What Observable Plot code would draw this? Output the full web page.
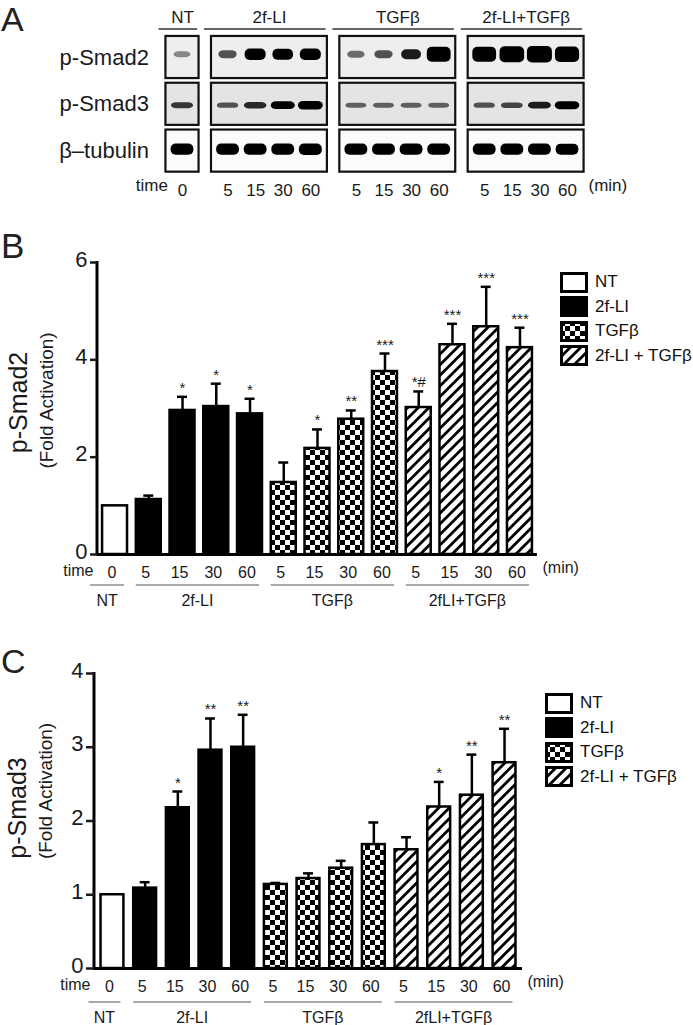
<!DOCTYPE html>
<html><head><meta charset="utf-8">
<script src="https://cdn.jsdelivr.net/npm/d3@7"></script>
<script src="https://cdn.jsdelivr.net/npm/@observablehq/plot@0.6"></script>
<style>
body{margin:0;background:#fff;}
#fig{position:relative;width:693px;height:1025px;overflow:hidden;font-family:"Liberation Sans",Arial,Helvetica,sans-serif;color:#1a1a1a;}
.letter{position:absolute;line-height:1;color:#222;font-weight:normal;}
.legend{position:absolute;font-size:17px;color:#111;white-space:nowrap;}
.legend .row{display:flex;align-items:center;height:24.5px;}
.legend svg{display:block;}
</style></head><body>
<div id="fig"></div>
<script>
// ---------------- data ----------------
const groups = ["NT", "2f-LI", "TGFβ", "2f-LI+TGFβ"];
const groupAxisLabels = ["NT", "2f-LI", "TGFβ", "2fLI+TGFβ"];
const legendLabels = ["NT", "2f-LI", "TGFβ", "2f-LI + TGFβ"];
const laneGroup = [0, 1, 1, 1, 1, 2, 2, 2, 2, 3, 3, 3, 3];
const laneTime = [0, 5, 15, 30, 60, 5, 15, 30, 60, 5, 15, 30, 60];

// western blot (relative band signal)
const blotRows = ["p-Smad2", "p-Smad3", "β–tubulin"];
const blotSmad2 = [0.2, 0.4, 0.75, 0.7, 0.75, 0.3, 0.4, 0.6, 1.1, 1.1, 1.2, 1.25, 1.15];
const blotSmad3 = [0.5, 0.4, 0.55, 0.75, 0.85, 0.35, 0.35, 0.35, 0.35, 0.4, 0.45, 0.6, 0.8];
const blotTubulin = [0.9, 0.9, 0.9, 0.9, 0.95, 0.9, 0.9, 0.9, 0.9, 0.9, 0.9, 0.88, 0.85];

// panel B: p-Smad2 fold activation
const smad2Mean = [1.00, 1.13, 2.96, 3.04, 2.89, 1.48, 2.18, 2.78, 3.76, 3.02, 4.31, 4.68, 4.25];
const smad2Sem  = [0.00, 0.08, 0.28, 0.47, 0.31, 0.41, 0.39, 0.18, 0.37, 0.33, 0.43, 0.82, 0.41];
const smad2Sig  = ["", "", "*", "*", "*", "", "*", "**", "***", "*#", "***", "***", "***"];

// panel C: p-Smad3 fold activation
const smad3Mean = [1.00, 1.09, 2.18, 2.96, 3.00, 1.14, 1.22, 1.36, 1.68, 1.61, 2.19, 2.35, 2.79];
const smad3Sem  = [0.00, 0.08, 0.22, 0.43, 0.44, 0.02, 0.07, 0.10, 0.30, 0.17, 0.34, 0.55, 0.46];
const smad3Sig  = ["", "", "*", "**", "**", "", "", "", "", "", "*", "**", "**"];

// ---------------- style ----------------
const FONT = '"Liberation Sans", Arial, Helvetica, sans-serif';
const barFills = ["#ffffff", "#000000", "url(#checker)", "url(#stripes)"];
const fig = document.getElementById("fig");

// patterns
const defs = d3.select(fig).append("svg").attr("width", 0).attr("height", 0)
  .style("position", "absolute").append("defs");
const ch = defs.append("pattern").attr("id", "checker").attr("patternUnits", "userSpaceOnUse")
  .attr("width", 10).attr("height", 10);
ch.append("rect").attr("width", 10).attr("height", 10).attr("fill", "#fff");
ch.append("rect").attr("width", 5).attr("height", 5).attr("fill", "#000");
ch.append("rect").attr("x", 5).attr("y", 5).attr("width", 5).attr("height", 5).attr("fill", "#000");
const st = defs.append("pattern").attr("id", "stripes").attr("patternUnits", "userSpaceOnUse")
  .attr("width", 7.5).attr("height", 7.5).attr("patternTransform", "rotate(45)");
st.append("rect").attr("width", 7.5).attr("height", 7.5).attr("fill", "#fff");
st.append("rect").attr("width", 2.8).attr("height", 7.5).attr("fill", "#000");

// panel letters
[["A", 2, 34], ["B", 228, 35], ["C", 644, 34]].forEach(([t, top, fs]) => {
  d3.select(fig).append("div").attr("class", "letter")
    .style("left", "1px").style("top", top + "px").style("font-size", fs + "px").text(t);
});

function place(node, top) {
  node.style.position = "absolute";
  node.style.left = "0px";
  node.style.top = top + "px";
  fig.appendChild(node);
}

// ---------------- panel A (blot) ----------------
const lanePos = laneTime.map((t, i) => i + 0.65 * laneGroup[i]);
const lanes = laneTime.map((t, i) => ({i, pos: lanePos[i], time: t, group: laneGroup[i]}));
const spans = groups.map((name, g) => {
  const ls = lanes.filter(l => l.group === g);
  return {name, g, first: ls[0].pos, last: ls[ls.length - 1].pos};
});
const PX = 27.6, PY = 46.8; // pixels per x / y unit in panel A
const bandShape = [
  {w0: 15, w1: 8, h0: 4, h1: 10, off: -0.06},
  {w0: 18, w1: 8, h0: 2.5, h1: 7, off: 0.03},
  {w0: 21, w1: 2, h0: 9, h1: 2.5, off: -0.03}
];
const blotSignals = [blotSmad2, blotSmad3, blotTubulin];
const bands = [];
blotSignals.forEach((arr, r) => arr.forEach((s, i) => {
  const sh = bandShape[r];
  const hw = (sh.w0 + sh.w1 * s) / PX / 2, hh = (sh.h0 + sh.h1 * s) / PY / 2;
  bands.push({x1: lanePos[i] - hw, x2: lanePos[i] + hw, y1: r + sh.off - hh, y2: r + sh.off + hh, s});
}));
const boxes = [];
blotRows.forEach((row, r) => spans.forEach(sp => {
  boxes.push({r, x1: sp.first - 0.6, x2: sp.last + 0.6, y1: r - 0.45, y2: r + 0.45});
}));
const rowBg = ["#eeeeee", "#e4e4e4", "#fbfbfb"];

const plotA = Plot.plot({
  width: 693, height: 200,
  marginLeft: 154.4, marginRight: 97, marginTop: 33.6, marginBottom: 26,
  x: {domain: [-1, 15], axis: null},
  y: {domain: [2.5, -0.5]},
  color: {type: "linear", domain: [0, 0.7], range: ["#bdbdbd", "#000000"], clamp: true},
  style: {fontFamily: FONT, color: "#1a1a1a", background: "transparent", overflow: "visible"},
  marks: [
    ...blotRows.map((row, r) => Plot.rect(boxes.filter(b => b.r === r),
      {x1: "x1", x2: "x2", y1: "y1", y2: "y2", fill: rowBg[r], stroke: "#111", strokeWidth: 2.2})),
    Plot.rect(bands, {x1: "x1", x2: "x2", y1: "y1", y2: "y2", fill: "s", rx: 5, ariaLabel: "bands"}),
    Plot.axisY({ticks: [0, 1, 2], tickFormat: r => blotRows[r], tickSize: 0, tickPadding: 6, fontSize: 22, label: null}),
    Plot.ruleY(spans, {x1: d => d.first - 0.85, x2: d => d.last + 0.55, y: () => -0.5, dy: -5, strokeWidth: 1.5, stroke: "#333"}),
    Plot.text(spans, {x: d => (d.first + d.last) / 2, y: () => -0.5, dy: -17, text: "name", fontSize: 17}),
    Plot.text(lanes, {x: "pos", y: () => 2.5, dy: 16, text: "time", fontSize: 17}),
    Plot.text(["time"], {frameAnchor: "bottom-left", textAnchor: "end", dx: 13, dy: 16, fontSize: 17}),
    Plot.text(["(min)"], {frameAnchor: "bottom-right", textAnchor: "start", dx: -8, dy: 16, fontSize: 17})
  ]
});
place(plotA, 0);
d3.select(plotA).selectAll('g[aria-label="bands"]').style("filter", "blur(1px)");

// ---------------- bar charts ----------------
function barChart(o) {
  const data = laneTime.map((t, i) => ({
    key: i, group: laneGroup[i], time: t, mean: o.mean[i], sem: o.sem[i],
    hi: o.mean[i] + o.sem[i], sig: o.sig[i]
  }));
  const withErr = data.filter(d => d.sem > 0);
  const yAxisLine = (index, scales, values, dims) => {
    const g = d3.create("svg:g");
    g.append("line").attr("x1", dims.marginLeft).attr("x2", dims.marginLeft)
      .attr("y1", dims.marginTop - 1).attr("y2", dims.height - dims.marginBottom + 1.5)
      .attr("stroke", "#000").attr("stroke-width", 3);
    return g.node();
  };
  const groupAnnot = (index, scales, values, dims) => {
    const x = scales.x;
    const bw = x.bandwidth ? x.bandwidth() : 0;
    const yb = dims.height - dims.marginBottom;
    const g = d3.create("svg:g").attr("font-family", FONT).attr("font-size", 16)
      .attr("text-anchor", "middle").attr("fill", "#1a1a1a");
    groups.forEach((name, gi) => {
      const keys = d3.range(laneTime.length).filter(i => laneGroup[i] === gi);
      const x1 = x(keys[0]) - (gi === 0 ? 12 : 0);
      const x2 = x(keys[keys.length - 1]) + bw - 3;
      g.append("line").attr("x1", x1).attr("x2", x2).attr("y1", yb + o.lineOff).attr("y2", yb + o.lineOff)
        .attr("stroke", "#555").attr("stroke-width", 1.2);
      g.append("text").attr("x", (x1 + x2) / 2).attr("y", yb + o.labelOff).attr("dy", "0.35em")
        .text(groupAxisLabels[gi]);
    });
    return g.node();
  };
  return Plot.plot({
    width: 693, height: o.marginTop + o.frameH + o.marginBottom,
    marginLeft: o.marginLeft, marginRight: o.marginRight, marginTop: o.marginTop, marginBottom: o.marginBottom,
    x: {type: "band", domain: d3.range(laneTime.length), paddingInner: o.paddingInner, paddingOuter: o.paddingOuter, round: false},
    y: {domain: [0, o.yMax]},
    style: {fontFamily: FONT, color: "#1a1a1a", background: "transparent", overflow: "visible"},
    marks: [
      ...groups.map((g, gi) => Plot.barY(data.filter(d => d.group === gi),
        {x: "key", y: "mean", fill: barFills[gi], stroke: "#000", strokeWidth: 2.5})),
      Plot.ruleX(withErr, {x: "key", y1: "mean", y2: "hi", stroke: "#000", strokeWidth: 2.5}),
      Plot.tickY(withErr, {x: "key", y: "hi", stroke: "#000", strokeWidth: 2.5, insetLeft: o.capInset, insetRight: o.capInset}),
      Plot.text(data.filter(d => d.sig), {x: "key", y: "hi", text: "sig", lineAnchor: "bottom", dy: -4, fontSize: 15}),
      Plot.ruleY([0], {stroke: "#000", strokeWidth: 3}),
      yAxisLine,
      Plot.axisY({ticks: o.ticks, tickFormat: d => String(d), tickSize: o.tickSize, tickPadding: 3, fontSize: 22, label: null, strokeWidth: 2.5, textStroke: "none"}),
      Plot.axisX({tickSize: 0, tickPadding: 12, fontSize: 16, tickFormat: i => String(laneTime[i]), label: null, dx: -3}),
      groupAnnot,
      Plot.text([o.yLabel], {frameAnchor: "left", textAnchor: "middle", lineAnchor: "middle", rotate: -90, dx: o.labelDx, dy: o.labelDy, fontSize: 25}),
      Plot.text(["(Fold Activation)"], {frameAnchor: "left", textAnchor: "middle", lineAnchor: "middle", rotate: -90, dx: o.subDx, dy: o.subDy, fontSize: 19}),
      Plot.text(["time"], {frameAnchor: "bottom-left", textAnchor: "end", dx: -4, dy: 21, fontSize: 16}),
      Plot.text(["(min)"], {frameAnchor: "bottom-right", textAnchor: "start", dx: 5, dy: 18, fontSize: 16})
    ]
  });
}

function legend(left, top) {
  const div = d3.select(fig).append("div").attr("class", "legend")
    .style("left", left + "px").style("top", top + "px");
  legendLabels.forEach((lab, gi) => {
    const row = div.append("div").attr("class", "row");
    const s = row.append("svg").attr("width", 28).attr("height", 21);
    s.append("rect").attr("x", 1.5).attr("y", 1.5).attr("width", 25).attr("height", 18)
      .attr("fill", barFills[gi]).attr("stroke", "#000").attr("stroke-width", 3);
    row.append("span").style("margin-left", "7px").text(lab);
  });
}

const plotB = barChart({
  mean: smad2Mean, sem: smad2Sem, sig: smad2Sig, yLabel: "p-Smad2",
  yMax: 6, ticks: [0, 2, 4, 6], tickSize: 7,
  marginLeft: 97, marginRight: 156, marginTop: 32, frameH: 292, marginBottom: 58,
  paddingInner: 0.26, paddingOuter: 0.15, capInset: 7.5,
  lineOff: 31, labelOff: 46,
  labelDx: -79, labelDy: -6, subDx: -51, subDy: -8
});
place(plotB, 230);
legend(560, 270);

const plotC = barChart({
  mean: smad3Mean, sem: smad3Sem, sig: smad3Sig, yLabel: "p-Smad3",
  yMax: 4, ticks: [0, 1, 2, 3, 4], tickSize: 8,
  marginLeft: 94, marginRight: 171, marginTop: 33, frameH: 295, marginBottom: 57,
  paddingInner: 0.3, paddingOuter: 0.2, capInset: 6.5,
  lineOff: 34, labelOff: 49,
  labelDx: -77, labelDy: -13, subDx: -48.5, subDy: -30
});
place(plotC, 640);
legend(545, 691);

// nudge the y tick labels up slightly so they clear the "time" label
[plotB, plotC].forEach(p => {
  d3.select(p).selectAll('g[aria-label="y-axis tick label"]').attr("transform", function () {
    const t = d3.select(this).attr("transform") || "";
    return t + " translate(0,-3)";
  });
});
</script>
</body></html>
